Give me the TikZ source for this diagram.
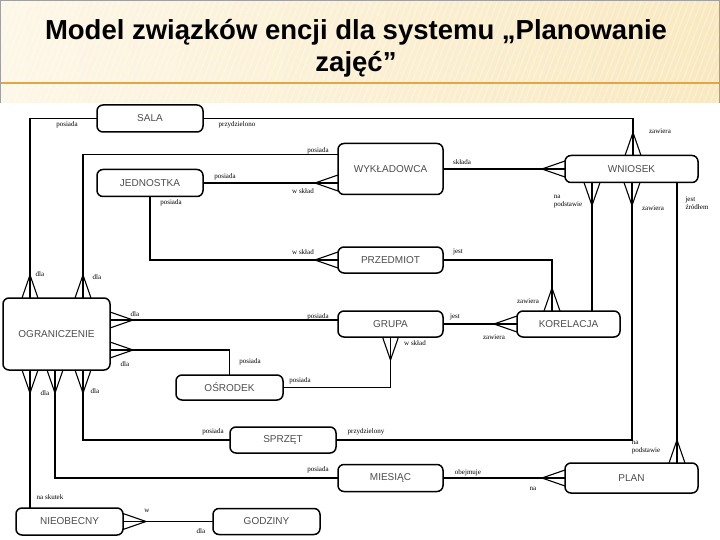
\documentclass[tikz,border=0pt]{standalone}
\usepackage{fontspec}
\setmainfont{Liberation Serif}
\setsansfont{Liberation Sans}
\usetikzlibrary{calc}
\definecolor{tloJasne}{RGB}{253,247,231}
\definecolor{tloCiemne}{RGB}{249,233,192}
\definecolor{pasekPomarancz}{RGB}{226,166,72}
\definecolor{ramkaSzara}{RGB}{160,160,160}

% kurza stopka: punkt na krawedzi encji, kierunek na zewnatrz
\newcommand{\stopa}[3]{%
  \draw[relacja] ($(#1)+(#2*23,#3*23)$) -- ($(#1)+(#3*8,#2*8)$)
                 ($(#1)+(#2*23,#3*23)$) -- ($(#1)-(#3*8,#2*8)$);}

\begin{document}
\begin{tikzpicture}[x=1pt,y=-1pt,
    encja/.style={draw,line width=1.5pt,rounded corners=6pt,minimum width=106pt,
      minimum height=27pt,inner sep=0pt,outer sep=0pt,
      font=\sffamily\fontsize{10}{12}\selectfont,text=black!70},
    relacja/.style={line width=1.1pt},
    etykieta/.style={font=\fontsize{7}{8}\selectfont,inner sep=0pt,align=left}]
  \useasboundingbox (0,0) rectangle (720,540);
  % pasek tytulu
  \shade[left color=tloJasne,right color=tloCiemne] (0,0) rectangle (720,103);
  \begin{scope}
    \clip (0,0) rectangle (720,103);
    \foreach \x in {0,6,...,760}
      \draw[white,opacity=0.35,line width=1.2pt] (\x,0) -- (\x-40,103);
  \end{scope}
  \draw[pasekPomarancz,line width=1.5pt] (0,83) -- (720,83);
  \draw[ramkaSzara] (0.5,103) -- (0.5,0.5) -- (719.5,0.5) -- (719.5,103);
  \node[font=\sffamily\bfseries\fontsize{27.5}{33}\selectfont,anchor=base] (tytul1) at (356,40)
    {Model związków encji dla systemu „Planowanie};
  \node[font=\sffamily\bfseries\fontsize{27.5}{33}\selectfont,anchor=base] (tytul2) at (356,72)
    {zajęć”};

  % encje
  \node[encja] (sala) at (150,118.5) {SALA};
  \node[encja] (jednostka) at (150,183) {JEDNOSTKA};
  \node[encja,minimum width=105pt,minimum height=51pt] (wykladowca) at (390.5,169) {WYKŁADOWCA};
  \node[encja,minimum width=133pt] (wniosek) at (631.5,169) {WNIOSEK};
  \node[encja,minimum width=105pt,minimum height=26pt] (przedmiot) at (390.5,260) {PRZEDMIOT};
  \node[encja,minimum width=105pt,minimum height=26pt] (grupa) at (390.5,324) {GRUPA};
  \node[encja,minimum width=103pt,minimum height=26pt] (korelacja) at (568.5,324) {KORELACJA};
  \node[encja,minimum width=107pt,minimum height=72pt] (ograniczenie) at (56.5,334) {OGRANICZENIE};
  \node[encja,minimum width=107pt,minimum height=25pt] (osrodek) at (229.5,387.5) {OŚRODEK};
  \node[encja,minimum height=26pt] (sprzet) at (283,440) {SPRZĘT};
  \node[encja,minimum width=105pt] (miesiac) at (390.5,478) {MIESIĄC};
  \node[encja,minimum width=133pt,minimum height=30pt] (plan) at (631.5,478) {PLAN};
  \node[encja,minimum width=107pt] (nieobecny) at (69.5,521.5) {NIEOBECNY};
  \node[encja,minimum width=107pt,minimum height=26pt] (godziny) at (266.5,521.5) {GODZINY};

  % punkty zaczepienia
  \coordinate (ogrG1) at ([xshift=27pt]ograniczenie.north west);
  \coordinate (ogrG2) at ([xshift=80pt]ograniczenie.north west);
  \coordinate (ogrP1) at ([yshift=-22pt]ograniczenie.north east);
  \coordinate (ogrP2) at ([yshift=-52pt]ograniczenie.north east);
  \coordinate (ogrD1) at ([xshift=27pt]ograniczenie.south west);
  \coordinate (ogrD2) at ([xshift=52pt]ograniczenie.south west);
  \coordinate (ogrD3) at ([xshift=80pt]ograniczenie.south west);
  \coordinate (wniG1) at ([xshift=68pt]wniosek.north west);
  \coordinate (wniD1) at ([xshift=27pt]wniosek.south west);
  \coordinate (wniD2) at ([xshift=67pt]wniosek.south west);
  \coordinate (wniD3) at ([xshift=112pt]wniosek.south west);
  \coordinate (wykL1) at ([yshift=-11pt]wykladowca.north west);
  \coordinate (korG1) at ([xshift=35pt]korelacja.north west);

  % relacje
  \draw[relacja] (sala.west) -| (ogrG1);
  \stopa{ogrG1}{0}{-1}
  \draw[relacja] (sala.east) -| (wniG1);
  \stopa{wniG1}{0}{-1}
  \draw[relacja] (wykL1) -| (ogrG2);
  \stopa{ogrG2}{0}{-1}
  \draw[relacja] (jednostka.east) -- (jednostka.east -| wykladowca.west);
  \stopa{jednostka.east -| wykladowca.west}{-1}{0}
  \draw[relacja] (jednostka.south) |- (przedmiot.west);
  \stopa{przedmiot.west}{-1}{0}
  \draw[relacja] (wykladowca.east) -- (wniosek.west);
  \stopa{wniosek.west}{-1}{0}
  \draw[relacja] (wniD1) -- (wniD1 |- korelacja.north);
  \stopa{wniD1}{0}{1}
  \draw[relacja] (wniD2) |- (sprzet.east);
  \stopa{wniD2}{0}{1}
  \draw[relacja] (wniD3) -- (wniD3 |- plan.north);
  \stopa{wniD3 |- plan.north}{0}{-1}
  \draw[relacja] (przedmiot.east) -| (korG1);
  \stopa{korG1}{0}{-1}
  \draw[relacja] (grupa.east) -- (korelacja.west);
  \stopa{korelacja.west}{-1}{0}
  \draw[relacja] (ogrP1) -- (ogrP1 -| grupa.west);
  \stopa{ogrP1}{1}{0}
  \draw[relacja] (grupa.south) |- (osrodek.east);
  \stopa{grupa.south}{0}{1}
  \draw[relacja] (ogrP2) -| (osrodek.north);
  \stopa{ogrP2}{1}{0}
  \draw[relacja] (ogrD1) -- (ogrD1 |- nieobecny.north);
  \stopa{ogrD1}{0}{1}
  \draw[relacja] (ogrD2) |- (miesiac.west);
  \stopa{ogrD2}{0}{1}
  \draw[relacja] (ogrD3) |- (sprzet.west);
  \stopa{ogrD3}{0}{1}
  \draw[relacja] (nieobecny.east) -- (godziny.west);
  \stopa{nieobecny.east}{1}{0}
  \draw[relacja] (miesiac.east) -- (plan.west);
  \stopa{plan.west}{-1}{0}

  % etykiety relacji
  \foreach \x/\y/\t [count=\i] in {67/125/posiada, 237/125/przydzielono, 318/151/posiada,
      660/131/zawiera, 225/177/posiada, 303/191/w skład, 171/203/posiada, 462/162/składa,
      {568}/{202}/{na\\podstawie}, 653/208/zawiera, 697/203/{jest\\źródłem},
      303/252/w skład, 458/252/jest, 40/274/dla, 97/277/dla, 135/314/dla, 318/317/posiada,
      455/317/jest, 528/301/zawiera, 494/337/zawiera, 415/343/w skład, 250/362/posiada,
      125/364/dla, 300/381/posiada, 45/393/dla, 95/391/dla, 213/432/posiada,
      366/432/przydzielony, 646/448/{na\\podstawie}, 318/470/posiada, 468/473/obejmuje,
      533/489/na, 50/497/na skutek, 147/511/w, 201/531/dla}
    \node[etykieta] (etk\i) at (\x,\y) {\t};
\end{tikzpicture}
\end{document}
